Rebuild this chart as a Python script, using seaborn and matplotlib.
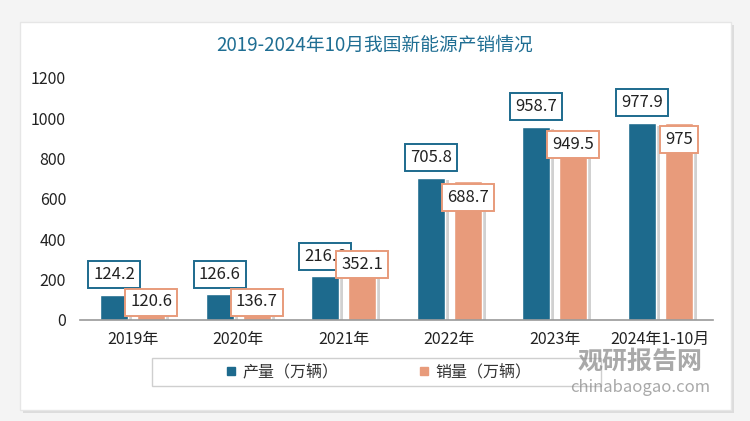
import pandas as pd
import matplotlib.pyplot as plt
import matplotlib.patheffects as pe
import seaborn as sns
from matplotlib.patches import FancyBboxPatch, Rectangle
from matplotlib.lines import Line2D

# Datos
years = ['2019年', '2020年', '2021年', '2022年', '2023年', '2024年1-10月']
produccion = [124.2, 126.6, 216.6, 705.8, 958.7, 977.9]
ventas = [120.6, 136.7, 352.1, 688.7, 949.5, 975]
series = ['产量（万辆）', '销量（万辆）']

azul = '#1d6a8d'
naranja = '#e89b7b'

df = pd.DataFrame({
    'year': years * 2,
    'value': produccion + ventas,
    'tipo': [series[0]] * len(years) + [series[1]] * len(years),
})

sns.set_theme(style='white')
plt.rcParams['font.family'] = ['Noto Sans CJK SC', 'DejaVu Sans']

fig = plt.figure(figsize=(7.5, 4.21), dpi=100)
fig.patch.set_facecolor('#f4f4f4')

# Tarjeta blanca de fondo
card = FancyBboxPatch((20 / 750, 1 - 410 / 421), 711 / 750, 388 / 421,
                      boxstyle='square,pad=0', transform=fig.transFigure,
                      facecolor='white', edgecolor='#e6e6e6', lw=1, zorder=-10,
                      path_effects=[pe.withSimplePatchShadow(offset=(2, -2), shadow_rgbFace='#cccccc', alpha=0.6)])
fig.patches.append(card)

ax_h = 242  # alto del eje en píxeles
ax = fig.add_axes([80 / 750, 1 - 320 / 421, 633 / 750, ax_h / 421])
ax.set_facecolor('none')

sns.barplot(data=df, x='year', y='value', hue='tipo', palette=[azul, naranja],
            width=0.7, gap=0.24, ax=ax, legend=False, saturation=1)

sombra = [pe.withSimplePatchShadow(offset=(3, -2), shadow_rgbFace='#999999', alpha=0.45)]
for bar in ax.patches:
    bar.set_path_effects(sombra)

ax.set_ylim(0, 1200)
ax.set_yticks(range(0, 1201, 200))
ax.set_xlim(-0.5, len(years) - 0.5)
ax.set_xlabel('')
ax.set_ylabel('')
ax.tick_params(axis='both', labelsize=11.5, colors='#222222', length=0)
ax.tick_params(axis='x', pad=8)
ax.tick_params(axis='y', pad=10)
for s in ['top', 'right', 'left']:
    ax.spines[s].set_visible(False)
ax.spines['bottom'].set_color('#999999')
ax.spines['bottom'].set_linewidth(1.2)

# Etiquetas de datos
for i, cont in enumerate(ax.containers):
    color = azul if i == 0 else naranja
    for bar, val in zip(cont, produccion if i == 0 else ventas):
        xc = bar.get_x() + bar.get_width() / 2
        top = bar.get_height()
        if i == 0:
            off = 20
        else:
            # dentro de la barra, sin bajar del eje
            off = -min(16, top * ax_h / 1200 - 18)
        ax.annotate(f'{val:g}', (xc, top), xytext=(0, off), textcoords='offset pixels',
                    ha='center', va='center', fontsize=12, color='#222222', zorder=5 + i,
                    bbox=dict(boxstyle='square,pad=0.3', facecolor='white', edgecolor=color, lw=1.4))

# Título
fig.text(0.5, 1 - 45 / 421, '2019-2024年10月我国新能源产销情况', ha='center', va='center',
         fontsize=13.5, color='#1f6e93')

# Leyenda
leg_box = Rectangle((152 / 750, 1 - 386 / 421), 449 / 750, 28 / 421, transform=fig.transFigure,
                    facecolor='white', edgecolor='#cfcfcf', lw=1, zorder=-5)
fig.patches.append(leg_box)
handles = [Line2D([], [], marker='s', linestyle='none', markersize=6, color=c) for c in [azul, naranja]]
fig.legend(handles, series, loc='center', bbox_to_anchor=(378 / 750, 1 - 372 / 421), ncol=2,
           frameon=False, fontsize=11.5, handlelength=0.8, handletextpad=0.3, columnspacing=5.0,
           labelcolor='#333333')

# Marca de agua
fig.text(640 / 750, 1 - 362 / 421, '观研报告网', ha='center', va='center', fontsize=18,
         fontweight='bold', color='#8c8c8c', alpha=0.75)
fig.text(640 / 750, 1 - 387 / 421, 'chinabaogao.com', ha='center', va='center', fontsize=12,
         color='#8c8c8c', alpha=0.75)

fig.savefig('out.png', dpi=100, facecolor=fig.get_facecolor())
